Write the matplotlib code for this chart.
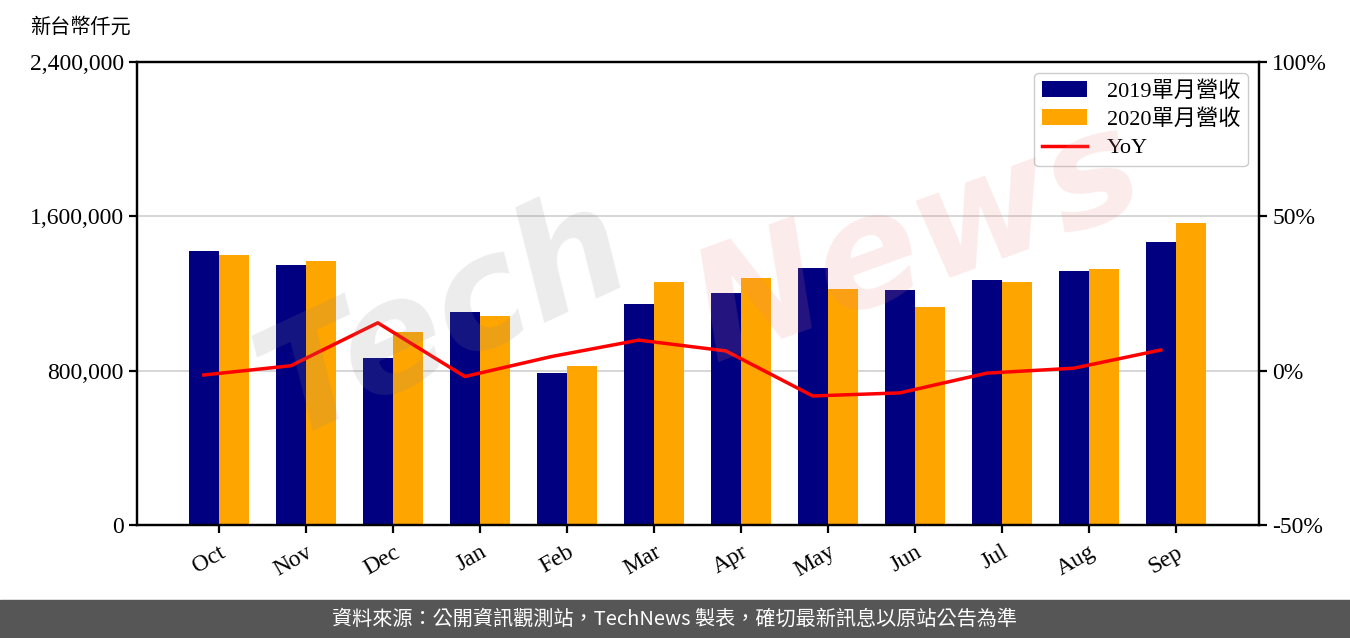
import matplotlib
matplotlib.use("Agg")
import matplotlib.pyplot as plt
import numpy as np

months = ["Oct", "Nov", "Dec", "Jan", "Feb", "Mar", "Apr", "May", "Jun", "Jul", "Aug", "Sep"]
rev_2019 = [1420000, 1348000, 866000, 1104000, 788000, 1146000, 1203000, 1332000, 1218000, 1270000, 1317000, 1467000]
rev_2020 = [1400000, 1369000, 1000000, 1083000, 824000, 1260000, 1280000, 1223000, 1130000, 1260000, 1327000, 1566000]
yoy = [-1.4, 1.6, 15.5, -1.9, 4.6, 9.9, 6.4, -8.2, -7.2, -0.8, 0.8, 6.7]

left_ticks = [0, 800000, 1600000, 2400000]
left_labels = ["0", "800,000", "1,600,000", "2,400,000"]
right_ticks = [-50, 0, 50, 100]
right_labels = ["-50%", "0%", "50%", "100%"]

serif = ["Liberation Serif", "Noto Sans CJK TC"]
plt.rcParams["font.family"] = serif

fig = plt.figure(figsize=(13.5, 6.38), dpi=100)
ax = fig.add_axes([137/1350, 1-525/638, (1259-137)/1350, (525-62)/638])
ax2 = ax.twinx()

x = np.arange(len(months))
w = 0.35
ax.bar(x - w/2, rev_2019, w, color="#000080", label="2019單月營收", zorder=2)
ax.bar(x + w/2, rev_2020, w, color="#FFA500", label="2020單月營收", zorder=2)
ax.set_ylim(0, 2400000)
ax.set_yticks(left_ticks)
ax.set_yticklabels(left_labels)
ax.grid(axis="y", color="#d0d0d0", linewidth=1.2, zorder=0)
ax.set_axisbelow(True)
ax.set_xticks(x)
ax.set_xticklabels(months, rotation=30, ha="right", rotation_mode="anchor")
ax.set_xlim(-0.943, 11.954)

line, = ax2.plot(x - w/2, yoy, color="red", linewidth=2.5, label="YoY", zorder=3)
ax2.set_ylim(-50, 100)
ax2.set_yticks(right_ticks)
ax2.set_yticklabels(right_labels)

for a in (ax, ax2):
    for s in a.spines.values():
        s.set_linewidth(1.6)
    a.tick_params(labelsize=17, width=1.6, length=6)
ax.tick_params(axis="x", labelsize=17, pad=6)

h1, l1 = ax.get_legend_handles_labels()
leg = ax2.legend(h1 + [line], l1 + ["YoY"], loc="upper right",
                 prop={"family": serif, "size": 16}, framealpha=1, edgecolor="#cccccc",
                 borderpad=0.35, handlelength=2.0, labelspacing=0.35, handletextpad=0.9)

# watermark
fig.text(0.33, 0.50, "Tech", fontsize=110, color="#888888", alpha=0.16, rotation=25,
         ha="center", va="center", family="DejaVu Sans", style="italic", fontweight="bold")
fig.text(0.68, 0.62, "News", fontsize=110, color="#e88080", alpha=0.16, rotation=20,
         ha="center", va="center", family="DejaVu Sans", style="italic", fontweight="bold")

fig.text(30/1350, 1-27/638, "新台幣仟元", fontsize=14.5, va="center", ha="left",
         family=["Noto Sans CJK TC", "DejaVu Sans"])

# footer band
fig.patches.append(plt.Rectangle((0, 0), 1, 38/638, transform=fig.transFigure,
                                 color="#565656", zorder=0))
fig.text(0.5, 19/638, "資料來源：公開資訊觀測站，TechNews 製表，確切最新訊息以原站公告為準",
         color="white", fontsize=14.5, ha="center", va="center",
         family=["Noto Sans CJK TC", "DejaVu Sans"])

fig.savefig("out.png", dpi=100)
